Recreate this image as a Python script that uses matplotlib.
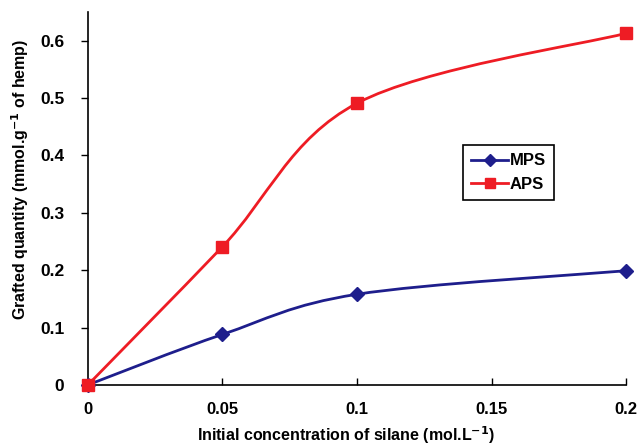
import matplotlib
matplotlib.use("Agg")
import matplotlib.pyplot as plt
import numpy as np
from matplotlib.path import Path
from matplotlib.patches import PathPatch
from matplotlib.lines import Line2D

concentration = [0.0, 0.05, 0.1, 0.2]
mps = [0.0, 0.088, 0.158, 0.199]
aps = [0.0, 0.241, 0.491, 0.613]

x_ticks = [0, 0.05, 0.1, 0.15, 0.2]
x_labels = ["0", "0.05", "0.1", "0.15", "0.2"]
y_ticks = [0, 0.1, 0.2, 0.3, 0.4, 0.5, 0.6]
y_labels = ["0", "0.1", "0.2", "0.3", "0.4", "0.5", "0.6"]

plt.rcParams["font.family"] = ["Liberation Sans", "DejaVu Sans"]
plt.rcParams["font.weight"] = "bold"
plt.rcParams["mathtext.default"] = "bf"


def smooth_path(xs, ys):
    # Excel-style smoothed line: cubic Bezier segments with Catmull-Rom tangents
    pts = np.column_stack([xs, ys])
    n = len(pts)
    verts = [pts[0]]
    codes = [Path.MOVETO]
    for i in range(n - 1):
        p0 = pts[i - 1] if i > 0 else pts[i]
        p1 = pts[i]
        p2 = pts[i + 1]
        p3 = pts[i + 2] if i + 2 < n else pts[i + 1]
        c1 = p1 + (p2 - p0) / 6.0
        c2 = p2 - (p3 - p1) / 6.0
        verts += [c1, c2, p2]
        codes += [Path.CURVE4] * 3
    return Path(verts, codes)


fig = plt.figure(figsize=(6.37, 4.46), dpi=100)
ax = fig.add_axes([0.138, 0.137, 0.845, 0.836])

series = [("MPS", mps, "#1e1e8c", "D", 7), ("APS", aps, "#ee1c24", "s", 8)]
handles = []
for name, values, color, marker, ms in series:
    ax.add_patch(PathPatch(smooth_path(concentration, values), facecolor="none",
                           edgecolor=color, linewidth=2.0, zorder=2))
    ax.plot(concentration, values, linestyle="none", marker=marker, color=color,
            markersize=ms, zorder=3, clip_on=False)
    handles.append(Line2D([], [], color=color, linewidth=2.0, marker=marker,
                          markersize=ms - 1, label=name))

ax.set_xlim(0, 0.2)
ax.set_ylim(0, 0.65)
ax.set_xticks(x_ticks)
ax.set_xticklabels(x_labels, fontsize=12, fontweight="bold")
ax.set_yticks(y_ticks)
ax.set_yticklabels(y_labels, fontsize=12.5, fontweight="bold")
ax.tick_params(axis="x", direction="in", length=5, width=1, pad=12)
ax.tick_params(axis="y", direction="out", length=5, width=1, pad=12)
ax.spines["top"].set_visible(False)
ax.spines["right"].set_visible(False)
for s in ("left", "bottom"):
    ax.spines[s].set_linewidth(1.2)

ax.set_xlabel("Initial concentration of silane (mol.L$^{-1}$)", fontsize=11.5,
              fontweight="bold")
ax.set_ylabel("Grafted quantity (mmol.g$^{-1}$ of hemp)", fontsize=11.5,
              fontweight="bold")
ax.xaxis.set_label_coords(0.48, -0.105)
ax.yaxis.set_label_coords(-0.105, 0.55)

leg = ax.legend(handles=handles, loc="upper left", bbox_to_anchor=(0.697, 0.643),
                borderaxespad=0, fancybox=False, edgecolor="black", framealpha=1,
                fontsize=12, handlelength=2.2, handletextpad=0.1, borderpad=0.5,
                labelspacing=0.5)
leg.get_frame().set_linewidth(1.2)

fig.savefig("out.png", dpi=100)
